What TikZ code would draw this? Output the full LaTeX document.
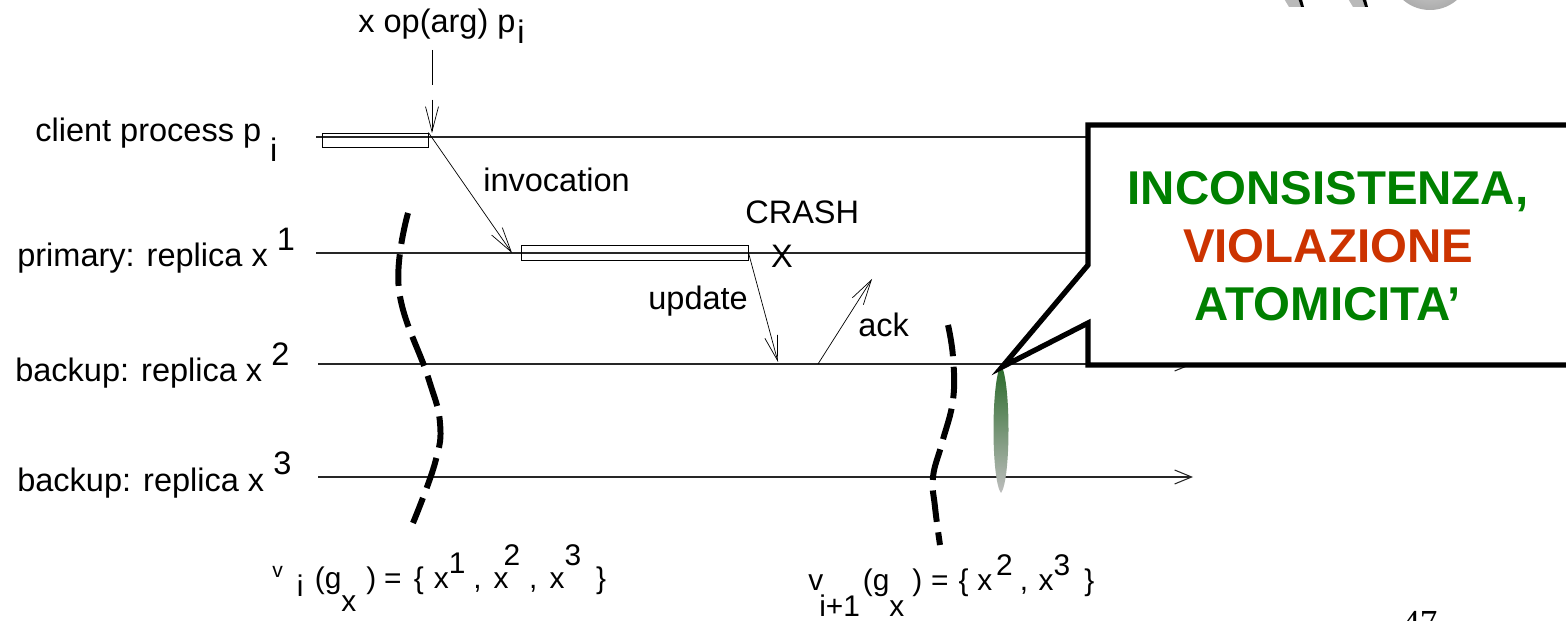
\documentclass[tikz,border=0pt]{standalone}
\usepackage{fontspec}
\setmainfont{Liberation Sans}
\newfontfamily\pagenumfont{Liberation Serif}
\usetikzlibrary{arrows.meta,positioning}
\definecolor{callgreen}{RGB}{0,128,0}
\definecolor{callred}{RGB}{204,51,0}
\definecolor{tipgreen}{RGB}{40,105,40}
\definecolor{tipgray}{RGB}{190,190,190}

\begin{document}
\begin{tikzpicture}[x=0.02cm, y=-0.02cm,
  font=\fontsize{18.5}{22}\selectfont,
  timeline/.style={draw=black!85, line width=0.6pt, -{Straight Barb[length=3.4mm,width=2.8mm]}},
  msg/.style={draw=black, line width=0.4pt, -{Straight Barb[length=5mm,width=2.6mm]}},
  procbar/.style={draw=black, line width=0.5pt, inner sep=0pt},
  lbl/.style={anchor=base west, inner sep=0pt},
  cut/.style={draw=black, line width=3.4pt, dash pattern=on 18pt off 6pt},
  callout/.style={draw=black, line width=3pt, fill=white, line join=miter},
  formula/.style={anchor=base west, inner sep=0pt, font=\fontsize{17}{20}\selectfont}
]
\useasboundingbox (0,0) rectangle (1566,621);

% Navigation icon (cut at the top)
\fill[gray!55] (1280,-8) -- (1296,-8) -- (1301,7) -- (1289,7) -- cycle;
\fill[black] (1296,-8) -- (1300,-8) -- (1304,7) -- (1301,7) -- cycle;
\fill[gray!55] (1344,-8) -- (1360,-8) -- (1365,7) -- (1353,7) -- cycle;
\fill[black] (1360,-8) -- (1364,-8) -- (1368,7) -- (1365,7) -- cycle;
\shade[inner color=gray!25, outer color=gray!65] (1430,-31) circle (41);

% Process labels
\node[lbl] (lclient) at (35,142) {client process p \raisebox{-11pt}{i}};
\node[lbl] (lprim) at (17,267) {primary: replica x \raisebox{9.6pt}{1}};
\node[lbl] (lback2) at (15,382) {backup: replica x \raisebox{9.6pt}{2}};
\node[lbl] (lback3) at (17,492) {backup: replica x \raisebox{10pt}{3}};

% Time lines
\coordinate (cs) at (316,137);  \coordinate (ce) at (1193,137);
\coordinate (ps) at (316,253);  \coordinate (pe) at (1193,253);
\coordinate (bs) at (318,364);  \coordinate (be) at (1193,364);
\coordinate (ts) at (318,477);  \coordinate (te) at (1193,477);
\draw[timeline] (cs) -- (ce);
\draw[timeline] (ps) -- (pe);
\draw[timeline] (bs) -- (be);
\draw[timeline] (ts) -- (te);

% Activation bars
\node[procbar, minimum width=2.12cm, minimum height=0.28cm] (cbar) at (375,140) {};
\node[procbar, minimum width=4.54cm, minimum height=0.30cm] (pbar) at (634.5,252.5) {};

% Request from outside
\node[lbl] (opreq) at (358,33) {x op(arg) p\kern1pt\raisebox{-6pt}{i}};
\coordinate (optop) at (432,50);
\coordinate (optip) at (432,133);
\draw[msg, dash pattern=on 19.8pt off 8.5pt on 40pt] (optop) -- (optip);

% Messages
\coordinate (invtip) at (512,253);
\coordinate (updtip) at (778,362);
\coordinate (ackfrom) at (818,364);
\coordinate (acktip) at (872,279);
\draw[msg] (cbar.north east) -- (invtip);
\draw[msg] (pbar.east) -- (updtip);
\draw[msg] (ackfrom) -- (acktip);
\node[lbl] (linv) at (483,192) {invocation};
\node[lbl] (lupd) at (648,310) {update};
\node[lbl] (lack) at (858,337) {ack};
\node[lbl] (lcrash) at (745,224) {CRASH};
\node[anchor=base, inner sep=0pt] (crashx) at (782,268) {X};

% View cuts
\draw[cut] plot[smooth, tension=0.7] coordinates {(408,213) (399,290) (428,377) (440,423) (435,463) (413,523)};
\draw[cut] plot[smooth, tension=0.7] coordinates {(948,325) (953,357) (953,400) (942,443) (933,477) (935,507) (940,545)};

% Views
\node[formula] (view1) at (272,588) {\raisebox{6pt}{\fontsize{12}{12}\selectfont v}\kern8pt\raisebox{-5pt}{i}\kern6.4pt(g\raisebox{-13.5pt}{x}\kern5.7pt)\kern4.5pt=\kern7pt\{\kern5.7pt x\raisebox{8.5pt}{1}\kern4.5pt,\kern6.8pt x\kern-2.8pt\raisebox{13pt}{2}\kern5pt,\kern7pt x\raisebox{13pt}{3}\kern8.5pt\}};
\node[formula] (view2) at (808,590) {v\kern-2.3pt\raisebox{-15pt}{i+1}\kern1.7pt(g\raisebox{-15pt}{x}\kern4.5pt)\kern5pt=\kern5.7pt\{\kern5pt x\kern2.3pt\raisebox{8.5pt}{2}\kern4pt,\kern6pt x\raisebox{8.5pt}{3}\kern8pt\}};

% Inconsistent state
\path[top color=tipgreen, bottom color=tipgray] (1001,365) .. controls (1011,380) and (1011,480) .. (1001,493) .. controls (991,480) and (991,380) .. (1001,365);

% Callout
\draw[callout] (1088,125) -- (1620,125) -- (1620,365) -- (1088,365) -- (1088,323) -- (1002,367) -- (1088,265) -- cycle;
\node[align=center, inner sep=0pt, font=\fontsize{27}{33}\selectfont\bfseries] (warn) at (1328,246)
  {\textcolor{callgreen}{INCONSISTENZA,}\\ \textcolor{callred}{VIOLAZIONE}\\ \textcolor{callgreen}{ATOMICITA’}};

% Page number (cut at the bottom)
\node[anchor=base west, inner sep=0pt, font=\pagenumfont\fontsize{20}{20}\selectfont] (pagenum) at (1402,634) {47};

\end{tikzpicture}
\end{document}
